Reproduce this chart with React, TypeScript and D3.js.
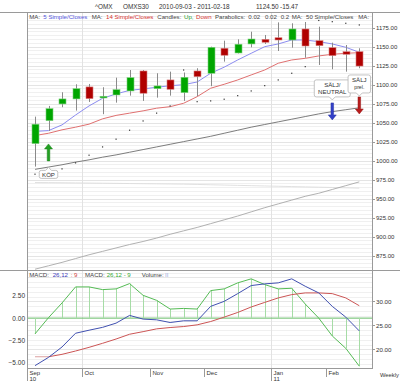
import React from 'react';
import * as d3 from 'd3';

const dates = [
  '2010-09-03', '2010-09-10', '2010-09-17', '2010-09-24', '2010-10-01', '2010-10-08', '2010-10-15',
  '2010-10-22', '2010-10-29', '2010-11-05', '2010-11-12', '2010-11-19', '2010-11-26', '2010-12-03',
  '2010-12-10', '2010-12-17', '2010-12-23', '2010-12-30', '2011-01-07', '2011-01-14', '2011-01-21',
  '2011-01-28', '2011-02-04', '2011-02-11', '2011-02-18',
];
const opens = [1022.4, 1052.6, 1074.6, 1081.2, 1097, 1082.5, 1086.4, 1091.7, 1118, 1094.7, 1106.2, 1089.5, 1118, 1115, 1147.9, 1141.7, 1153.6, 1159.7, 1161.8, 1158.8, 1173.3, 1157.9, 1148.7, 1143.4, 1143.4];
const highs = [1057.9, 1072, 1090, 1100.5, 1100.9, 1096.6, 1109.2, 1119.3, 1119.3, 1115, 1117.1, 1116, 1121.6, 1150, 1157.9, 1159.7, 1169.7, 1165.4, 1182, 1180.8, 1182.5, 1176.3, 1155.3, 1152.2, 1147.9];
const lows = [992.1, 1039, 1070.3, 1065.8, 1077.2, 1061.1, 1076.3, 1085.5, 1078.6, 1082.9, 1085.5, 1078.6, 1085, 1098, 1130.3, 1141, 1149.2, 1153.6, 1144.3, 1148.7, 1135.5, 1125.9, 1120.3, 1117.1, 1121.6];
const closes = [1047.9, 1068.4, 1081.2, 1094.7, 1081.6, 1084.7, 1093.4, 1109.2, 1088.7, 1098.3, 1093.9, 1109.7, 1110.5, 1149.2, 1138.7, 1153.2, 1160.1, 1155.8, 1158.8, 1173.3, 1150.9, 1151.3, 1138.2, 1140, 1124.5];

const ma5 = [1038.5, 1039.5, 1047, 1060, 1072, 1082, 1087.8, 1092.5, 1094.3, 1096.6, 1098.5, 1100, 1103.5, 1115, 1123, 1132.5, 1141.3, 1150, 1153.6, 1158.8, 1158.8, 1156.6, 1153.6, 1149.2, 1142.6];
const ma14 = [1033, 1036, 1040.5, 1044, 1048, 1055, 1059.5, 1062.5, 1065.5, 1069, 1071, 1075.5, 1084.2, 1095.3, 1100.5, 1106.2, 1112.8, 1119.3, 1128.2, 1132.5, 1134.7, 1137.8, 1140, 1141.3, 1142.1];
const ma50 = [988.5, 991.5, 994.5, 998, 1001, 1004.5, 1007.5, 1011, 1014.5, 1018, 1021.5, 1025, 1028.5, 1032, 1036, 1040, 1044, 1047.5, 1051, 1054.5, 1058, 1061.5, 1064.5, 1067, 1069.5];
const ma200 = [857, 861.5, 866, 871, 876, 880.5, 885, 889.5, 893.5, 898, 903, 907.5, 912, 917, 922, 927, 932.5, 938, 943, 948, 953, 957, 962, 967, 972];
const faintLine = [971.1, 971, 970.8, 970.6, 970.4, 970.2, 970, 969.8, 969.6, 969.4, 969.2, 969, 968.6, 968.2, 967.8, 967.4, 967, 966.6, 966.2, 965.8, 965.4, 965, 964.6, 964.2, 963.7];
const sar = [982.1, 984, 989.1, 997, 1007.1, 1018, 1028.2, 1040, 1052.2, 1062.5, 1072, 1119.3, 1077.6, 1078.6, 1080.8, 1085.5, 1091.7, 1098.7, 1106.2, 1115, 1123.7, 1184.5, 1182.9, 1180.8, 1178.6];

const macd = [-5.3, -4.38, -3.22, -1.69, -1.35, -1.03, -0.56, 0.3, -0.11, -0.19, -0.49, -0.3, -0.3, 1.31, 1.87, 2.73, 3.63, 3.82, 3.93, 4.38, 3.55, 2.81, 1.31, 0.11, -1.43];
const signal = [-4.31, -4.31, -4.04, -3.67, -3.26, -2.81, -2.33, -1.8, -1.51, -1.2, -1.05, -0.94, -0.75, -0.38, 0.11, 0.63, 1.24, 1.75, 2.25, 2.62, 2.81, 2.81, 2.73, 2.25, 1.38];
const hist = [-1.76, 0.05, 1.69, 3.48, 3.48, 3.18, 3.26, 3.85, 2.54, 1.98, 1.01, 1.08, 1.01, 3.07, 3.26, 3.93, 4.38, 3.74, 3.26, 3.33, 1.57, 0, -1.99, -3.37, -5.36];

const priceTicks = [875, 900, 925, 950, 975, 1000, 1025, 1050, 1075, 1100, 1125, 1150, 1175];
const macdTicks = [2.5, 0, -2.5, -5];
const volTicks = [30, 25, 20];

const signalIdx = [1, 22, 24];
const signalLevel = [1022, 1053.6, 1061.4];
const signalDir = ['up', 'down', 'down'];
const signalText = [['KÖP'], ['SÄLJ/', 'NEUTRAL'], ['SÄLJ', 'prel.']];
const signalColor = ['#22a022', '#3340c8', '#b81c1c'];

const FONT = '"Liberation Sans", Arial, Helvetica, sans-serif';
const W = 400, H = 381;
const LEFT = 27.5, RIGHT = 372.5;
const MAIN_TOP = 12.5, MAIN_BOT = 270.5, LOW_BOT = 368.5;

function bubble(x0: number, y0: number, w: number, h: number, cx: number, notchTop: boolean) {
  const r = 2, n = 3, nh = 3;
  const x1 = x0 + w, y1 = y0 + h;
  let p = `M${x0 + r},${y0}`;
  if (notchTop) p += `L${cx - n},${y0}L${cx},${y0 - nh}L${cx + n},${y0}`;
  p += `L${x1 - r},${y0}Q${x1},${y0} ${x1},${y0 + r}L${x1},${y1 - r}Q${x1},${y1} ${x1 - r},${y1}`;
  if (!notchTop) p += `L${cx + n},${y1}L${cx},${y1 + nh}L${cx - n},${y1}`;
  p += `L${x0 + r},${y1}Q${x0},${y1} ${x0},${y1 - r}L${x0},${y0 + r}Q${x0},${y0} ${x0 + r},${y0}Z`;
  return p;
}

function arrow(cx: number, tip: number, up: boolean) {
  const s = up ? 1 : -1;
  const hw = 4, hh = 5, sw = 1.3, len = 17;
  return `M${cx},${tip}L${cx + hw},${tip + s * hh}L${cx + sw},${tip + s * hh}L${cx + sw},${tip + s * len}L${cx - sw},${tip + s * len}L${cx - sw},${tip + s * hh}L${cx - hw},${tip + s * hh}Z`;
}

export default function App() {
  const x = d3.scalePoint<string>().domain(dates).range([35, 359.3]);
  const px = (i: number) => x(dates[i]) as number;
  const y = d3.scaleLinear().domain([855.3, 1195]).range([MAIN_BOT, MAIN_TOP]);
  const ym = d3.scaleLinear().domain([-5.62, 5.31]).range([LOW_BOT, MAIN_BOT]);
  const yv = d3.scaleLinear().domain([16, 36.45]).range([LOW_BOT, MAIN_BOT]);

  const lineMain = (vals: number[]) => d3.line<number>().x((_, i) => px(i)).y((d) => y(d))(vals) as string;
  const lineMacd = (vals: number[], offset = 0) =>
    d3.line<number>().x((_, i) => px(i + offset)).y((d) => ym(d))(vals) as string;

  const parse = d3.timeParse('%Y-%m-%d');
  const parsed = dates.map((d) => parse(d) as Date);
  const monthStarts = parsed.map((d, i) => (i === 0 || d.getMonth() !== parsed[i - 1].getMonth() ? i : -1)).filter((i) => i >= 0);
  const sepX = (i: number) => (i === 0 ? LEFT : Math.round((px(i - 1) + px(i)) / 2) + 0.5);
  const quarterStarts = monthStarts.filter((i) => i > 0 && parsed[i].getMonth() % 3 === 0);
  const yearStarts = monthStarts.filter((i) => i === 0 || parsed[i].getFullYear() !== parsed[i - 1].getFullYear());
  const fmtMonth = d3.timeFormat('%b');
  const fmtYear = d3.timeFormat('%y');
  const fmt2 = d3.format('.2f');

  const minorMain = d3.range(860, 1195, 5);
  const minorLow = d3.range(17, 37, 1);

  const legend: [number, string, string][] = [
    [29.3, 'MA:', '#444'], [43.3, '5 Simple/Closes', '#5555dd'], [91.7, 'MA:', '#444'], [106, '14 Simple/Closes', '#d43030'],
    [157.3, 'Candles:', '#444'], [184, 'Up,', '#2a9a2a'], [196, 'Down', '#d43030'], [215, 'Parabolics:', '#444'],
    [248.3, '0.02', '#444'], [265, '0.02', '#444'], [280.7, '0.2', '#444'], [291.7, 'MA:', '#444'],
    [306, '50 Simple/Closes', '#444'], [358.3, 'MA:', '#444'],
  ];
  const title: [number, string][] = [[95, '^OMX'], [123, 'OMXS30'], [159, '2010-09-03 - 2011-02-18'], [256, '1124.50'], [280, '-15.47']];
  const lowLegend: [number, string, string][] = [
    [29.3, 'MACD:', '#444'], [52.7, '26,12', '#3b3bbb'], [70.7, ': 9', '#d04040'], [85, 'MACD:', '#444'],
    [106.7, '26,12 - 9', '#33aa33'], [141.7, 'Volume:', '#444'], [165, 'II', '#9aaadd'],
  ];

  return (
    <svg width={W} height={H} style={{ position: 'fixed', left: 0, top: 0, background: '#fff' }} fontFamily={FONT}>
      <rect x={0} y={0} width={W} height={H} fill="#fff" />
      {title.map(([tx, t], k) => (
        <text key={'t' + k} x={tx} y={8.5} fontSize={6.4} fill="#333">{t}</text>
      ))}
      <g shapeRendering="crispEdges">
        {minorMain.map((v) => (
          <line key={'mg' + v} x1={LEFT} x2={RIGHT} y1={Math.round(y(v)) + 0.5} y2={Math.round(y(v)) + 0.5}
            stroke={v % 25 === 0 ? '#e4e4e4' : '#f0f0f0'} />
        ))}
        {minorLow.map((v) => (
          <line key={'lg' + v} x1={LEFT} x2={RIGHT} y1={Math.round(yv(v)) + 0.5} y2={Math.round(yv(v)) + 0.5}
            stroke={v % 5 === 0 ? '#e6e6e6' : '#f0f0f0'} />
        ))}
        {quarterStarts.map((i) => (
          <line key={'q' + i} x1={sepX(i)} x2={sepX(i)} y1={MAIN_TOP} y2={LOW_BOT} stroke="#e2e2e2" />
        ))}
      </g>
      {legend.map(([lx, t, c], k) => (
        <text key={'l' + k} x={lx} y={19.3} fontSize={6.1} fill={c}>{t}</text>
      ))}
      <path d={lineMain(faintLine)} fill="none" stroke="#dcdcdc" strokeWidth={0.9} />
      <path d={lineMain(ma200)} fill="none" stroke="#a8a8a8" strokeWidth={0.9} />
      <path d={lineMain(ma50)} fill="none" stroke="#6e6e6e" strokeWidth={0.9} />
      <path d={lineMain(ma14)} fill="none" stroke="#e07070" strokeWidth={1} />
      <path d={lineMain(ma5)} fill="none" stroke="#8c8cf0" strokeWidth={1} />
      {sar.map((v, i) => (
        <rect key={'s' + i} x={px(i) - 0.6} y={y(v) - 0.6} width={1.2} height={1.2} fill="#333" />
      ))}
      {dates.map((d, i) => {
        const up = closes[i] >= opens[i];
        const cx = Math.round(px(i)) + 0.5;
        const top = y(Math.max(opens[i], closes[i]));
        const bot = y(Math.min(opens[i], closes[i]));
        return (
          <g key={'c' + d}>
            <line x1={cx} x2={cx} y1={y(highs[i])} y2={y(lows[i])} stroke="#8a8a8a" strokeWidth={1} />
            <rect x={cx - 3.5} y={top} width={7} height={Math.max(1.5, bot - top)}
              fill={up ? '#00a600' : '#b00000'} stroke={up ? '#7fd07f' : '#d88080'} strokeWidth={0.6} />
          </g>
        );
      })}
      {signalIdx.map((idx, k) => {
        const cx = px(idx);
        const tip = y(signalLevel[k]);
        const up = signalDir[k] === 'up';
        const lines = signalText[k];
        let box;
        if (up) {
          const bw = 18.5, bh = 8, by = tip + 26.5;
          box = (
            <g>
              <path d={bubble(cx - bw / 2, by, bw, bh, cx, true)} fill="#fff" stroke="#b4b4b4" strokeWidth={0.8} />
              <text x={cx} y={by + 6.3} fontSize={6.1} fill="#333" textAnchor="middle">{lines[0]}</text>
            </g>
          );
        } else if (lines[1] === 'NEUTRAL') {
          const bw = 36, bh = 17, by = tip - 23 - bh;
          box = (
            <g>
              <path d={bubble(cx - bw / 2, by, bw, bh, cx, false)} fill="#fff" stroke="#b4b4b4" strokeWidth={0.8} />
              <text x={cx} y={by + 7.3} fontSize={6.1} fill="#333" textAnchor="middle">{lines[0]}</text>
              <text x={cx} y={by + 14.6} fontSize={6.1} fill="#333" textAnchor="middle">{lines[1]}</text>
            </g>
          );
        } else {
          const bw = 22.5, bh = 18, by = tip - 21 - bh;
          box = (
            <g>
              <path d={bubble(cx - bw / 2, by, bw, bh, cx, false)} fill="#fff" stroke="#b4b4b4" strokeWidth={0.8} />
              <text x={cx} y={by + 7.3} fontSize={6.1} fill="#333" textAnchor="middle">{lines[0]}</text>
              <text x={cx} y={by + 14.3} fontSize={5.2} fill="#333" textAnchor="middle">{lines[1]}</text>
            </g>
          );
        }
        return (
          <g key={'sig' + k}>
            <path d={arrow(cx, tip, up)} fill={signalColor[k]} stroke={d3.color(signalColor[k])!.darker(0.6).formatHex()} strokeWidth={0.5} />
            {box}
          </g>
        );
      })}
      <line x1={LEFT} x2={RIGHT} y1={ym(0)} y2={ym(0)} stroke="#66bb66" strokeWidth={1} />
      {hist.map((v, i) => (
        <line key={'h' + i} x1={Math.round(px(i)) + 0.5} x2={Math.round(px(i)) + 0.5} y1={ym(0)} y2={ym(v)} stroke="#a6dca6" strokeWidth={1} />
      ))}
      <path d={lineMacd(hist)} fill="none" stroke="#55bb55" strokeWidth={1} />
      <path d={lineMacd(signal.slice(0, 2))} fill="none" stroke="#dba0a0" strokeWidth={1} />
      <path d={lineMacd(signal.slice(1), 1)} fill="none" stroke="#cc5555" strokeWidth={1} />
      <path d={lineMacd(macd)} fill="none" stroke="#4050b0" strokeWidth={1} />
      {lowLegend.map(([lx, t, c], k) => (
        <text key={'ll' + k} x={lx} y={277} fontSize={6.1} fill={c}>{t}</text>
      ))}
      <g shapeRendering="crispEdges" stroke="#9a9a9a" strokeWidth={1}>
        <line x1={0} x2={W} y1={MAIN_TOP} y2={MAIN_TOP} />
        <line x1={0} x2={W} y1={MAIN_BOT} y2={MAIN_BOT} />
        <line x1={LEFT} x2={LEFT} y1={MAIN_TOP} y2={H} />
        <line x1={RIGHT} x2={RIGHT} y1={MAIN_TOP} y2={LOW_BOT} />
        <line x1={LEFT} x2={RIGHT} y1={LOW_BOT} y2={LOW_BOT} />
        {monthStarts.filter((i) => i > 0).map((i) => (
          <line key={'ms' + i} x1={sepX(i)} x2={sepX(i)} y1={LOW_BOT} y2={yearStarts.includes(i) ? H : 377} />
        ))}
        {priceTicks.map((v) => (
          <line key={'pt' + v} x1={RIGHT} x2={RIGHT + 2.5} y1={Math.round(y(v)) + 0.5} y2={Math.round(y(v)) + 0.5} />
        ))}
        {volTicks.map((v) => (
          <line key={'vt' + v} x1={RIGHT} x2={RIGHT + 2.5} y1={Math.round(yv(v)) + 0.5} y2={Math.round(yv(v)) + 0.5} />
        ))}
      </g>
      {priceTicks.map((v) => (
        <text key={'pl' + v} x={376} y={y(v) + 2.2} fontSize={6} fill="#333">{fmt2(v)}</text>
      ))}
      {volTicks.map((v) => (
        <text key={'vl' + v} x={376} y={yv(v) + 2.2} fontSize={6.2} fill="#333">{fmt2(v)}</text>
      ))}
      {macdTicks.map((v) => (
        <text key={'ml' + v} x={25} y={ym(v) + 2.4} fontSize={6.5} fill="#333" textAnchor="end">{fmt2(v)}</text>
      ))}
      {monthStarts.map((i) => (
        <text key={'mn' + i} x={(i === 0 ? LEFT : sepX(i)) + 2} y={375} fontSize={6} fill="#333">{fmtMonth(parsed[i])}</text>
      ))}
      {yearStarts.map((i) => (
        <text key={'yr' + i} x={(i === 0 ? LEFT : sepX(i)) + 2} y={381} fontSize={6} fill="#333">{fmtYear(parsed[i])}</text>
      ))}
      <text x={380} y={377} fontSize={5.8} fill="#333">Weekly</text>
    </svg>
  );
}
